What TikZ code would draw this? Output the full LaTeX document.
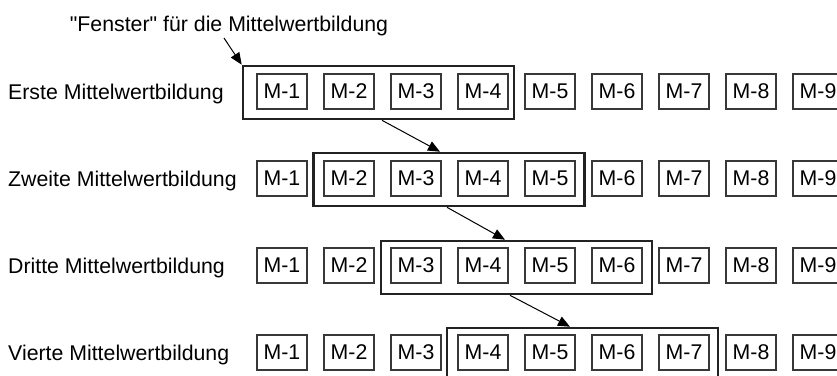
\documentclass[tikz,border=0pt]{standalone}
\usepackage{fontspec}
\setmainfont{Liberation Sans}[Ligatures=TeXOff]
\usetikzlibrary{arrows.meta}
\definecolor{boxgray}{HTML}{383838}
\definecolor{wingray}{HTML}{222222}
\begin{document}
\begin{tikzpicture}[x=1pt,y=-1pt,
  every node/.style={font=\fontsize{21.3}{25}\selectfont},
  mbox/.style={draw=boxgray, line width=1.3pt, minimum width=50pt, minimum height=35pt, inner sep=0pt},
  window/.style={draw=wingray, line width=2.6pt, minimum width=271pt, minimum height=53pt, inner sep=0pt},
  arr/.style={draw=black, line width=1pt, -{Triangle[length=12pt,width=10pt]}},
  rowlabel/.style={anchor=base west, inner sep=0pt}]
\useasboundingbox (0,0) rectangle (837,375);
\fill[white] (0,0) rectangle (837,375);
\foreach \r/\lab in {1/Erste,2/Zweite,3/Dritte,4/Vierte}{
  \node[rowlabel] (l\r) at (8,{99+87*(\r-1)}) {\lab\ Mittelwertbildung};
  \foreach \i in {1,...,9}
    \node[mbox] (b\r\i) at ({282+67*(\i-1)},{91.5+87*(\r-1)}) {M-\i};
}
\node[window] (w1) at (378.5,92.5) {};
\node[window] (w2) at (449,179.5) {};
\node[window] (w3) at (516.5,267.5) {};
\node[window] (w4) at (582.5,354.5) {};
\node[anchor=base, inner sep=0pt] (fen) at (229,31) {"Fenster" für die Mittelwertbildung};
\coordinate (fs) at (224,38);
\draw[arr] (fs) -- (w1.north west);
\draw[arr] ([xshift=3.5pt]w1.south) -- ([xshift=-9pt]w2.north);
\draw[arr] ([xshift=-2pt]w2.south) -- ([xshift=-11.5pt]w3.north);
\draw[arr] ([xshift=-6.5pt]w3.south) -- ([xshift=-12.5pt]w4.north);
\end{tikzpicture}
\end{document}
